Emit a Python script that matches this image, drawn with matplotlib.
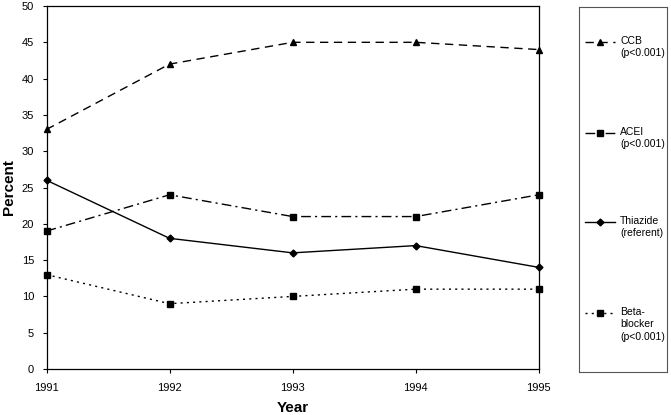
import matplotlib
matplotlib.use("Agg")
import matplotlib.pyplot as plt
from matplotlib.lines import Line2D

plt.rcParams['font.family'] = ['Liberation Sans', 'DejaVu Sans']

years = [1991, 1992, 1993, 1994, 1995]
ccb = [33, 42, 45, 45, 44]
acei = [19, 24, 21, 21, 24]
thiazide = [26, 18, 16, 17, 14]
beta = [13, 9, 10, 11, 11]
labels = ["CCB\n(p<0.001)", "ACEI\n(p<0.001)", "Thiazide\n(referent)", "Beta-\nblocker\n(p<0.001)"]

fig = plt.figure(figsize=(6.71, 4.15), dpi=100)
ax = fig.add_axes([0.0693, 0.1108, 0.7337, 0.8747])

styles = [
    dict(ls=(0, (6, 4)), marker='^', ms=5),
    dict(ls=(0, (7, 3, 1.5, 3)), marker='s', ms=4.5),
    dict(ls='-', marker='D', ms=3.5),
    dict(ls=(0, (1.5, 3)), marker='s', ms=4.5),
]
series = [ccb, acei, thiazide, beta]
for s, st in zip(series, styles):
    ax.plot(years, s, color='black', lw=1.0, linestyle=st['ls'], marker=st['marker'],
            ms=st['ms'], mfc='black', mec='black', clip_on=False, zorder=3)

ax.set_xlim(1991, 1995)
ax.set_ylim(0, 50)
ax.set_xticks(years)
ax.set_yticks(range(0, 51, 5))
ax.tick_params(axis='both', labelsize=8, direction='out', length=3, width=0.8)
ax.tick_params(axis='x', pad=7)
ax.tick_params(axis='y', pad=6)
for sp in ax.spines.values():
    sp.set_linewidth(0.9)
ax.set_xlabel("Year", fontsize=11, fontweight='bold', labelpad=6)
ax.set_ylabel("Percent", fontsize=11, fontweight='bold', labelpad=4)

# legend box
lax = fig.add_axes([0.863, 0.1036, 0.131, 0.8794])
lax.set_xlim(0, 88)
lax.set_ylim(365, 0)
lax.set_xticks([])
lax.set_yticks([])
for sp in lax.spines.values():
    sp.set_linewidth(0.8)
    sp.set_color('#555555')
ypos = [35, 126, 215, 306]
for y, st, lab in zip(ypos, styles, labels):
    lax.add_line(Line2D([6, 36], [y, y], color='black', lw=1.0, linestyle=st['ls']))
    lax.add_line(Line2D([21], [y], color='black', marker=st['marker'], ms=st['ms'], mfc='black', mec='black'))
    lax.text(41, y - 6, lab, fontsize=7.5, va='top', ha='left', linespacing=1.3)

fig.savefig("out.png", dpi=100)
